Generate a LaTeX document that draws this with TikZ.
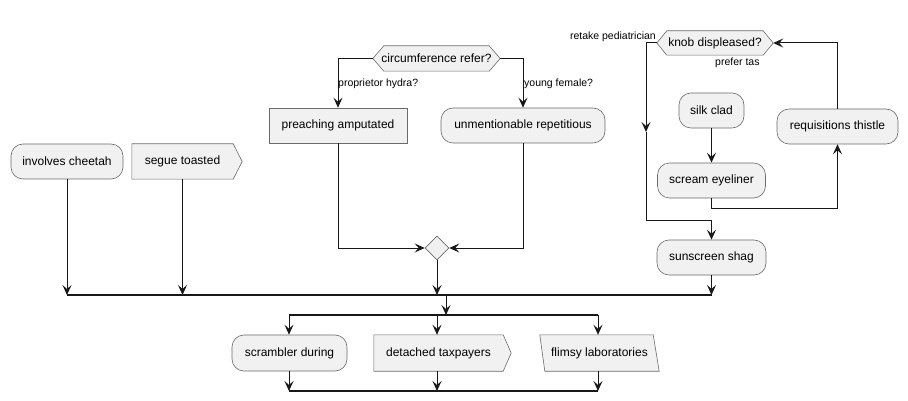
\documentclass[tikz,border=0pt]{standalone}
\usepackage{fontspec}
\setmainfont{Liberation Sans}
\usetikzlibrary{arrows.meta,shapes.geometric,backgrounds}
\definecolor{boxfill}{HTML}{F1F1F1}
\definecolor{ink}{HTML}{181818}
\definecolor{edge}{HTML}{6A6A6A}
\tikzset{
  base/.style={inner sep=0pt, font=\fontsize{12}{14}\selectfont, text=black},
  act/.style={base, draw=edge, fill=boxfill, line width=0.6pt, rounded corners=12pt},
  plainbox/.style={base, draw=edge, fill=boxfill, line width=0.6pt},
  ghost/.style={base},
  outline/.style={draw=edge, fill=boxfill, line width=0.6pt},
  arr/.style={draw=ink, line width=1pt, -{Stealth[length=10pt,width=9pt,inset=4pt]}},
  wire/.style={draw=ink, line width=1pt},
  bar/.style={draw=ink, line width=1.6pt},
  lbl/.style={inner sep=0pt, font=\fontsize{10.5}{12.5}\selectfont, text=black},
}
\begin{document}
\begin{tikzpicture}[x=1pt,y=-1pt]
\useasboundingbox (0,0) rectangle (908,401);

% left column
\node[act, minimum width=112pt, minimum height=35pt] (cheetah) at (67,161.5) {involves cheetah};
\node[ghost, minimum width=101pt, minimum height=35pt] (segue) at (182.5,161.5) {segue toasted};
\begin{scope}[on background layer]
  \path[outline] (segue.north west) -- (segue.north east) -- ([xshift=9pt]segue.east) -- (segue.south east) -- (segue.south west) -- cycle;
\end{scope}

% middle decision
\node[ghost, minimum width=127pt, minimum height=25pt] (circ) at (436.5,58.5) {circumference refer?};
\begin{scope}[on background layer]
  \path[outline] (circ.west) -- ([xshift=11pt]circ.north west) -- ([xshift=-11pt]circ.north east) -- (circ.east) -- ([xshift=-11pt]circ.south east) -- ([xshift=11pt]circ.south west) -- cycle;
\end{scope}
\node[plainbox, minimum width=138pt, minimum height=35pt] (preach) at (338,125.5) {preaching amputated};
\node[act, minimum width=164pt, minimum height=35pt] (unment) at (523,125.5) {unmentionable repetitious};
\node[plainbox, diamond, aspect=1, minimum width=24pt, minimum height=24pt] (dia) at (437,248) {};

\draw[arr] (circ.west) -| (preach.north);
\draw[arr] (circ.east) -| (unment.north);
\node[lbl, anchor=west] (lp) at (338,84) {proprietor hydra?};
\node[lbl, anchor=west] (ly) at (524,84) {young female?};
\draw[arr] (preach.south) |- (dia.west);
\draw[arr] (unment.south) |- (dia.east);

% right loop
\node[ghost, minimum width=116pt, minimum height=24pt] (knob) at (715,43) {knob displeased?};
\begin{scope}[on background layer]
  \path[outline] (knob.west) -- ([xshift=10pt]knob.north west) -- ([xshift=-10pt]knob.north east) -- (knob.east) -- ([xshift=-10pt]knob.south east) -- ([xshift=10pt]knob.south west) -- cycle;
\end{scope}
\node[lbl, anchor=east] (lr) at (656,37) {retake pediatrician};
\node[lbl, anchor=west] (lt) at (715,63) {prefer tas};
\node[act, minimum width=65pt, minimum height=35pt] (silk) at (711.5,110.5) {silk clad};
\node[act, minimum width=108pt, minimum height=35pt] (scream) at (711.5,180.5) {scream eyeliner};
\node[act, minimum width=121pt, minimum height=35pt] (req) at (837.5,126.5) {requisitions thistle};
\node[act, minimum width=109pt, minimum height=35pt] (sun) at (711.5,257.5) {sunscreen shag};

\coordinate (kl) at (646,43);
\coordinate (kmid) at (646,132);
\coordinate (kdown) at (646,220);
\draw[arr] (knob.west) -- (kl) -- (kmid);
\draw[arr] (kmid) -- (kdown) -| (sun.north);
\draw[arr] (silk.south) -- (scream.north);
\coordinate (sl) at (711.5,208);
\draw[arr] (scream.south) -- (sl) -| (req.south);
\coordinate (rt) at (837.5,43);
\draw[arr] (req.north) -- (rt) -- (knob.east);

% first join bar
\coordinate (b1l) at (67,295);
\coordinate (b1r) at (711.5,295);
\draw[bar] (b1l) -- (b1r);
\draw[arr] (cheetah.south) -- (cheetah.south |- b1l);
\draw[arr] (segue.south) -- (segue.south |- b1l);
\draw[arr] (dia.south) -- (dia.south |- b1l);
\draw[arr] (sun.south) -- (sun.south |- b1l);

% fork bar
\coordinate (j1) at (446,295);
\coordinate (b2l) at (289,315);
\coordinate (b2r) at (598,315);
\draw[arr] (j1) -- (j1 |- b2l);
\draw[bar] (b2l) -- (b2r);

% bottom row
\node[act, minimum width=115pt, minimum height=36pt] (scr) at (289.5,353) {scrambler during};
\node[ghost, minimum width=129pt, minimum height=36pt] (det) at (438.5,353) {detached taxpayers};
\node[ghost, minimum width=119pt, minimum height=36pt] (flim) at (599.5,353) {flimsy laboratories};
\begin{scope}[on background layer]
  \path[outline] (det.north west) -- (det.north east) -- ([xshift=8pt]det.east) -- (det.south east) -- (det.south west) -- cycle;
  \path[outline] (flim.north west) -- ([xshift=-6pt]flim.north east) -- (flim.south east) -- ([xshift=5pt]flim.south west) -- cycle;
\end{scope}

\coordinate (x1) at (289,315);
\coordinate (x2) at (437,315);
\coordinate (x3) at (598,315);
\draw[arr] (x1) -- (x1 |- scr.north);
\draw[arr] (x2) -- (x2 |- det.north);
\draw[arr] (x3) -- (x3 |- flim.north);

\coordinate (b3l) at (289,391);
\coordinate (b3r) at (598,391);
\draw[arr] (x1 |- scr.south) -- (b3l);
\draw[arr] (x2 |- det.south) -- (x2 |- b3l);
\draw[arr] (x3 |- flim.south) -- (b3r);
\draw[bar] (b3l) -- (b3r);
\end{tikzpicture}
\end{document}
